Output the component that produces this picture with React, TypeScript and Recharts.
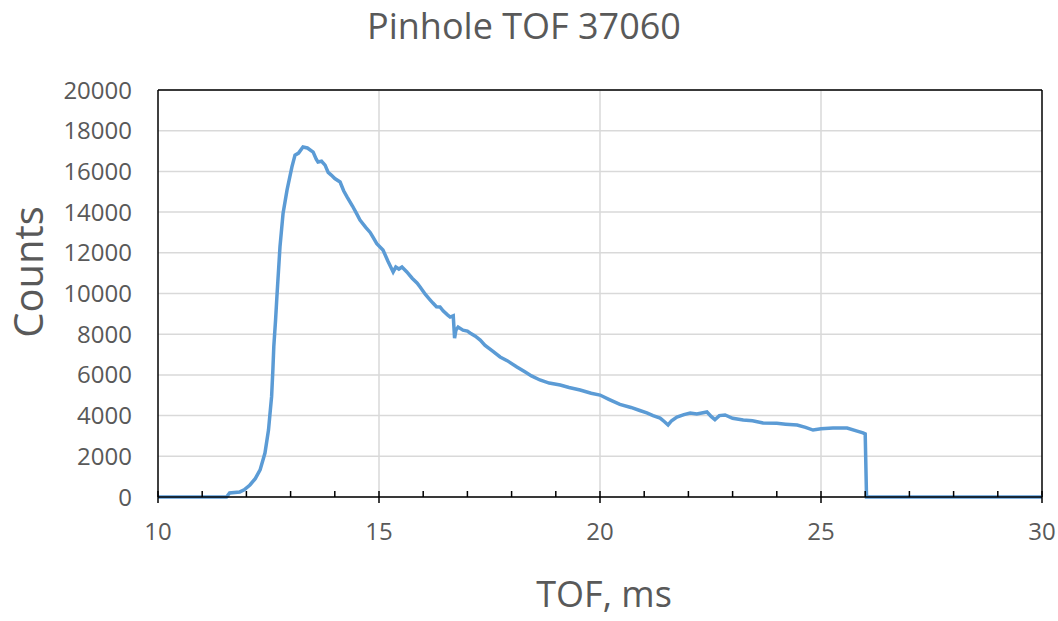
import { LineChart, Line, XAxis, YAxis, CartesianGrid, ReferenceLine, Label } from 'recharts';

// time of flight (ms) and neutron counts
const tof = [
  10, 11.55, 11.62, 11.85, 11.95, 12.08, 12.2, 12.31, 12.42, 12.5, 12.53, 12.57, 12.6, 12.62, 12.66, 12.69,
  12.76, 12.83, 12.92, 13.03, 13.1, 13.18, 13.28, 13.38, 13.51, 13.58, 13.62, 13.7, 13.78, 13.85, 13.92,
  14.0, 14.12, 14.2, 14.28, 14.4, 14.5, 14.57, 14.7, 14.8, 14.86, 14.95, 15.09, 15.2, 15.32, 15.38,
  15.45, 15.52, 15.63, 15.75, 15.86, 15.93, 16.05, 16.15, 16.22, 16.3, 16.38, 16.45, 16.55, 16.61, 16.68,
  16.71, 16.74, 16.79, 16.9, 17.0, 17.06, 17.18, 17.29, 17.4, 17.55, 17.74, 17.9, 18.12, 18.3, 18.45,
  18.64, 18.85, 19.1, 19.3, 19.55, 19.8, 20.0, 20.2, 20.45, 20.7, 20.9, 21.06, 21.2, 21.36, 21.46,
  21.54, 21.62, 21.74, 21.9, 22.04, 22.19, 22.42, 22.52, 22.6, 22.7, 22.83, 23.0, 23.24, 23.45, 23.69,
  24.0, 24.2, 24.46, 24.65, 24.82, 25.0, 25.27, 25.59, 25.8, 25.95, 26.0, 26.03, 30,
];
const counts = [
  0, 0, 200, 250, 350, 590, 900, 1330, 2160, 3290, 4000, 4930, 6300, 7390, 8700, 9840,
  12300, 13950, 15090, 16220, 16800, 16900, 17200, 17150, 16950, 16600, 16460, 16500, 16310, 15950, 15820,
  15650, 15480, 15050, 14740, 14300, 13900, 13610, 13250, 13000, 12780, 12450, 12140, 11600, 11060, 11300,
  11200, 11300, 11060, 10750, 10520, 10320, 9950, 9700, 9530, 9350, 9340, 9150, 8950, 8840, 8900,
  7800, 8200, 8350, 8200, 8150, 8060, 7900, 7710, 7450, 7200, 6880, 6700, 6390, 6150, 5950,
  5750, 5600, 5500, 5380, 5260, 5100, 5010, 4800, 4550, 4400, 4250, 4130, 4000, 3880, 3700,
  3540, 3750, 3930, 4050, 4130, 4080, 4180, 3950, 3800, 4000, 4030, 3870, 3780, 3750, 3640,
  3620, 3580, 3540, 3420, 3290, 3350, 3390, 3390, 3250, 3150, 3100, 0, 0,
];

const xTicks = [10, 11, 12, 13, 14, 15, 16, 17, 18, 19, 20, 21, 22, 23, 24, 25, 26, 27, 28, 29, 30];
const xGridLines = [15, 20, 25];
const yTicks = [0, 2000, 4000, 6000, 8000, 10000, 12000, 14000, 16000, 18000, 20000];

const title = 'Pinhole TOF 37060';
const xTitle = 'TOF, ms';
const yTitle = 'Counts';

const data = tof.map((t, i) => ({ tof: t, counts: counts[i] }));

const FONT = '"Open Sans", sans-serif';
const TEXT = '#595959';

// minor ticks point up into the plot, major ticks (every 5 ms) cross the axis and carry a label
function TofTick({ x, y, payload }: any) {
  const major = payload.value % 5 === 0;
  return (
    <g>
      <line x1={x} x2={x} y1={y - 6} y2={major ? y + 6 : y} stroke="#000" strokeWidth={1.5} />
      {major && (
        <text x={x} y={y + 43} textAnchor="middle" fontFamily={FONT} fontSize={24} fill={TEXT}>
          {payload.value}
        </text>
      )}
    </g>
  );
}

export default function App() {
  return (
    <div style={{ position: 'absolute', left: 0, top: 0, width: 1058, height: 621, background: '#fff' }}>
      <LineChart width={1058} height={621} data={data} margin={{ top: 90, right: 16, left: 0, bottom: 0 }}>
        <CartesianGrid stroke="#d9d9d9" strokeWidth={1.5} vertical={false} />
        {xGridLines.map((v) => (
          <ReferenceLine key={v} x={v} stroke="#d9d9d9" strokeWidth={1.5} />
        ))}
        <XAxis
          dataKey="tof"
          type="number"
          domain={[10, 30]}
          ticks={xTicks}
          interval={0}
          height={124}
          axisLine={{ stroke: '#000', strokeWidth: 1.5 }}
          tickLine={false}
          tickSize={0}
          tickMargin={0}
          tick={<TofTick />}
        >
          <Label
            content={() => (
              <text x={604} y={607} textAnchor="middle" fontFamily={FONT} fontSize={36} fill={TEXT}>
                {xTitle}
              </text>
            )}
          />
        </XAxis>
        <YAxis
          type="number"
          domain={[0, 20000]}
          ticks={yTicks}
          width={158}
          axisLine={{ stroke: '#000', strokeWidth: 1.5 }}
          tickLine={false}
          tickSize={6}
          tickMargin={20}
          tick={{ fontFamily: FONT, fontSize: 24, fill: TEXT }}
        >
          <Label
            content={() => (
              <text
                x={43}
                y={272}
                transform="rotate(-90 43 272)"
                textAnchor="middle"
                fontFamily={FONT}
                fontSize={40}
                fill={TEXT}
              >
                {yTitle}
              </text>
            )}
          />
        </YAxis>
        <ReferenceLine y={20000} stroke="#000" strokeWidth={1.5} />
        <ReferenceLine x={30} stroke="#000" strokeWidth={1.5} />
        <Line
          type="linear"
          dataKey="counts"
          stroke="#5b9bd5"
          strokeWidth={3.5}
          dot={false}
          isAnimationActive={false}
        />
      </LineChart>
      <svg width={1058} height={80} style={{ position: 'absolute', left: 0, top: 0 }}>
        <text x={524} y={39} textAnchor="middle" fontFamily={FONT} fontSize={36} fill={TEXT}>
          {title}
        </text>
      </svg>
    </div>
  );
}
